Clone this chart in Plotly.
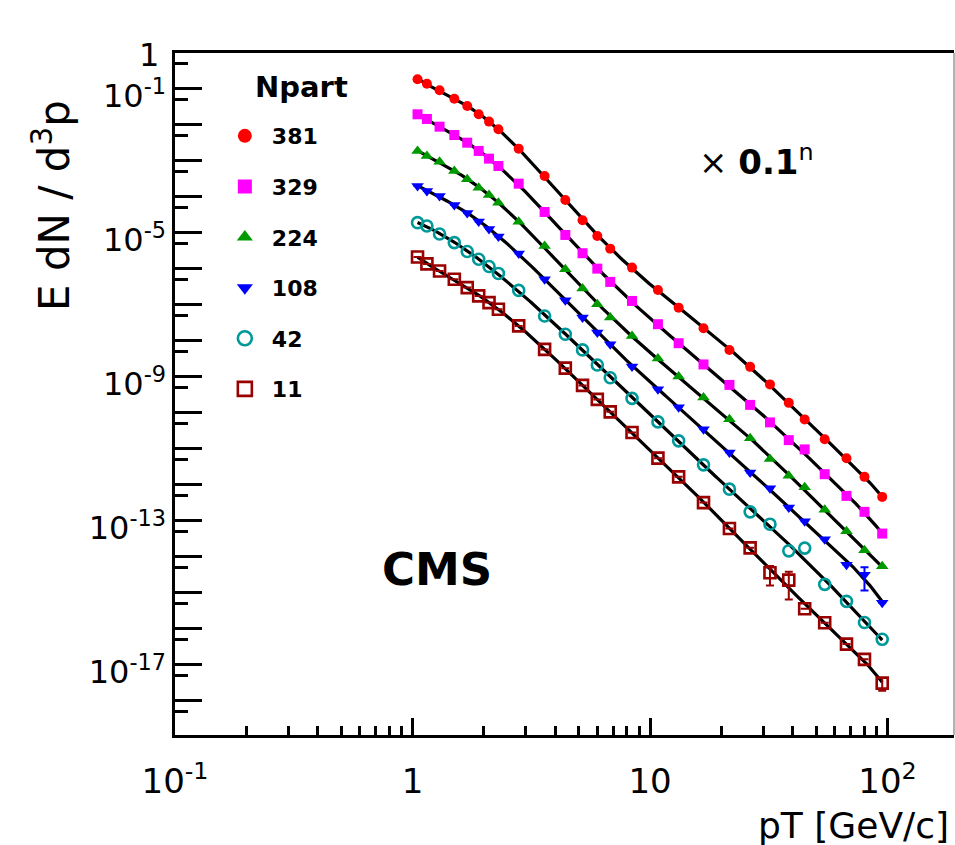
import numpy as np
import plotly.graph_objects as go

# pT bin centres [GeV/c]
pt = [1.05, 1.15, 1.3, 1.5, 1.7, 1.9, 2.1, 2.3, 2.8, 3.6, 4.4, 5.2, 6.0, 6.8, 8.4,
      10.8, 13.2, 16.8, 21.6, 26.4, 32.0, 38.4, 44.8, 54.4, 67.2, 80.0, 95.0]

npart_381 = [1.86e-1, 1.40e-1, 9.20e-2, 5.38e-2, 3.37e-2, 1.98e-2, 1.24e-2, 7.60e-3, 2.20e-3,
             3.83e-4, 8.26e-5, 2.25e-5, 8.26e-6, 3.66e-6, 1.09e-6, 2.61e-7, 8.41e-8, 2.25e-8,
             5.62e-9, 1.90e-9, 6.19e-10, 1.90e-10, 6.59e-11, 1.86e-11, 5.52e-12, 1.67e-12, 4.64e-13]
npart_329 = [1.98e-2, 1.47e-2, 8.97e-3, 5.27e-3, 3.22e-3, 1.90e-3, 1.16e-3, 7.26e-4, 2.34e-4,
             3.83e-5, 8.79e-6, 2.73e-6, 1.02e-6, 4.36e-7, 1.29e-7, 2.91e-8, 8.63e-9, 2.22e-9,
             6.00e-10, 1.67e-10, 5.45e-11, 1.75e-11, 9.68e-12, 1.98e-12, 4.94e-13, 1.78e-13, 4.44e-14]
npart_224 = [1.90e-3, 1.38e-3, 9.57e-4, 5.27e-4, 3.10e-4, 1.81e-4, 1.14e-4, 6.95e-5, 2.06e-5,
             4.36e-6, 9.82e-7, 2.84e-7, 1.04e-7, 4.44e-8, 1.38e-8, 3.27e-9, 1.03e-9, 2.66e-10,
             6.68e-11, 1.98e-11, 5.27e-12, 1.78e-12, 8.53e-13, 2.05e-13, 5.11e-14, 1.53e-14, 5.45e-15]
npart_108 = [2.02e-4, 1.47e-4, 1.07e-4, 6.00e-5, 3.60e-5, 2.08e-5, 1.29e-5, 8.00e-6, 2.70e-6,
             5.18e-7, 1.35e-7, 4.44e-8, 1.70e-8, 8.09e-9, 1.96e-9, 4.55e-10, 1.44e-10, 3.52e-11,
             7.89e-12, 2.20e-12, 8.09e-13, 2.34e-13, 9.68e-14, 3.10e-14, 6.07e-15, 3.16e-15, 5.27e-16]
npart_42 = [1.93e-5, 1.56e-5, 9.38e-6, 5.38e-6, 3.06e-6, 1.86e-6, 1.17e-6, 7.50e-7, 2.53e-7,
            4.94e-8, 1.53e-8, 5.62e-9, 2.15e-9, 9.51e-10, 2.53e-10, 5.62e-11, 1.67e-11, 3.60e-12,
            7.60e-13, 1.78e-13, 8.09e-14, 1.47e-14, 1.75e-14, 1.72e-15, 5.81e-16, 1.50e-16, 5.11e-17]
npart_11 = [2.15e-6, 1.38e-6, 8.79e-7, 5.18e-7, 3.03e-7, 1.78e-7, 1.16e-7, 7.60e-8, 2.61e-8,
            5.81e-9, 1.75e-9, 5.81e-10, 2.37e-10, 1.07e-10, 2.84e-11, 5.52e-12, 1.67e-12, 3.22e-13,
            6.11e-14, 1.78e-14, 3.60e-15, 2.25e-15, 3.60e-16, 1.47e-16, 3.76e-17, 1.42e-17, 3.10e-18]

nan = float("nan")
err_108 = [nan] * 25 + [2.0e-15, nan]
err_11 = [nan] * 20 + [2.0e-15, 1.6e-15] + [nan] * 4 + [1.2e-18]

labels = ["381", "329", "224", "108", "42", "11"]
series = [npart_381, npart_329, npart_224, npart_108, npart_42, npart_11]
errors = [None, None, None, err_108, None, err_11]
colors = ["#ff0000", "#ff00ff", "#009900", "#0000ff", "#009999", "#990000"]
symbols = ["circle", "square", "triangle-up", "triangle-down", "circle-open", "square-open"]
sizes = [10, 10, 11, 11, 11, 11]

# y-axis decades: all get long ticks, only some are labelled
y_decades = [10.0 ** (-k) for k in range(0, 19)]
y_label_vals = [1e-1, 1e-5, 1e-9, 1e-13, 1e-17]
y_label_text = ["10<sup>-1</sup>", "10<sup>-5</sup>", "10<sup>-9</sup>",
                "10<sup>-13</sup>", "10<sup>-17</sup>"]
y_top_label = "1"
y_minor = [5.0 * 10.0 ** (-k) for k in range(1, 20)]

x_major = [0.1, 1, 10, 100]
x_text = ["10<sup>-1</sup>", "1", "10", "10<sup>2</sup>"]
x_minor = [m * 10.0 ** e for e in (-1, 0, 1, 2) for m in range(2, 10)]

FONT = "DejaVu Sans"
fig = go.Figure()

lx = np.log10(pt)
grid = np.linspace(lx[0], lx[-1], 300)
# fitted curves (polynomial fit in log-log space of the read data)
for vals in series:
    coef = np.polyfit(lx, np.log10(vals), 7)
    fig.add_trace(go.Scatter(x=10 ** grid, y=10 ** np.polyval(coef, grid), mode="lines",
                             line=dict(color="black", width=3.2), showlegend=False,
                             hoverinfo="skip"))

for lab, vals, err, col, sym, sz in zip(labels, series, errors, colors, symbols, sizes):
    mk = dict(color=col, symbol=sym, size=sz)
    if sym.endswith("open"):
        mk["line"] = dict(color=col, width=2.6)
    ey = None
    if err is not None:
        ey = dict(type="data", array=err, visible=True, color=col, thickness=2, width=4)
    fig.add_trace(go.Scatter(x=pt, y=vals, mode="markers", marker=mk, error_y=ey,
                             showlegend=False, name=lab))

# legend entries (bigger symbols as in the reference)
for lab, col, sym in zip(labels, colors, symbols):
    mk = dict(color=col, symbol=sym, size=14)
    if sym.endswith("open"):
        mk["line"] = dict(color=col, width=2.6)
    fig.add_trace(go.Scatter(x=[None], y=[None], mode="markers", marker=mk,
                             name="<b>%s</b>" % lab, legendgroup=lab, showlegend=True))

# invisible trace carrying the labelled overlay axis
fig.add_trace(go.Scatter(x=[None], y=[None], yaxis="y2", mode="markers",
                         showlegend=False, hoverinfo="skip"))

fig.update_layout(
    width=955, height=845,
    margin=dict(l=175, r=1, t=53, b=110),
    paper_bgcolor="white", plot_bgcolor="white",
    font=dict(family=FONT, color="black"),
    showlegend=True,
    legend=dict(x=0.055, y=0.909, xanchor="left", yanchor="top",
                font=dict(family=FONT, size=22, color="black"),
                bgcolor="rgba(0,0,0,0)", itemwidth=44, tracegroupgap=19,
                traceorder="grouped"),
    xaxis=dict(type="log", range=[-1, 2.28], showgrid=False, zeroline=False,
               showline=True, linecolor="black", linewidth=3, mirror=True,
               ticks="inside", ticklen=17, tickwidth=2.5, tickcolor="black",
               tickmode="array", tickvals=x_major, ticktext=x_text,
               tickfont=dict(family=FONT, size=34, color="black"),
               ticklabelstandoff=14,
               minor=dict(ticks="inside", ticklen=9, tickwidth=2.5, tickcolor="black",
                          tickmode="array", tickvals=x_minor, showgrid=False)),
    yaxis=dict(type="log", range=[-18.95, 0], showgrid=False, zeroline=False,
               showline=True, linecolor="black", linewidth=3, mirror=False,
               ticks="inside", ticklen=27, tickwidth=2.5, tickcolor="black",
               tickmode="array", tickvals=y_decades, showticklabels=False,
               minor=dict(ticks="inside", ticklen=13, tickwidth=2.5, tickcolor="black",
                          tickmode="array", tickvals=y_minor, showgrid=False)),
    yaxis2=dict(type="log", range=[-18.95, 0], overlaying="y", side="left",
                showgrid=False, zeroline=False, showline=False, ticks="",
                tickmode="array", tickvals=y_label_vals, ticktext=y_label_text,
                tickfont=dict(family=FONT, size=32, color="black"),
                ticklabelstandoff=8, ticklabelshift=7),
    shapes=[dict(type="line", xref="paper", yref="paper", x0=1, x1=1, y0=0, y1=1,
                 line=dict(color="#999999", width=1.5))],
    annotations=[
        dict(text=y_top_label, xref="paper", yref="paper", x=-0.018, y=1.0,
             xanchor="right", yanchor="middle", yshift=-2, height=26, valign="middle",
             showarrow=False, font=dict(family=FONT, size=32, color="black")),
        dict(text="E dN / d<sup>3</sup>p", xref="paper", yref="paper", x=-0.158, y=0.777,
             xanchor="center", yanchor="middle", textangle=-90, showarrow=False,
             font=dict(family=FONT, size=42, color="black")),
        dict(text="pT [GeV/c]", xref="paper", yref="paper", x=0.996, y=-0.132,
             xanchor="right", yanchor="middle", showarrow=False,
             font=dict(family=FONT, size=36, color="black")),
        dict(text="× <b>0.1</b><sup>n</sup>", xref="paper", yref="paper", x=0.746, y=0.843,
             xanchor="center", yanchor="middle", showarrow=False,
             font=dict(family=FONT, size=34, color="black")),
        dict(text="<b>CMS</b>", xref="paper", yref="paper", x=0.336, y=0.242,
             xanchor="center", yanchor="middle", showarrow=False,
             font=dict(family=FONT, size=45, color="black")),
        dict(text="<b>Npart</b>", xref="paper", yref="paper", x=0.100, y=0.950,
             xanchor="left", yanchor="middle", showarrow=False,
             font=dict(family=FONT, size=29, color="black")),
    ],
)

fig.write_html("out.html")
